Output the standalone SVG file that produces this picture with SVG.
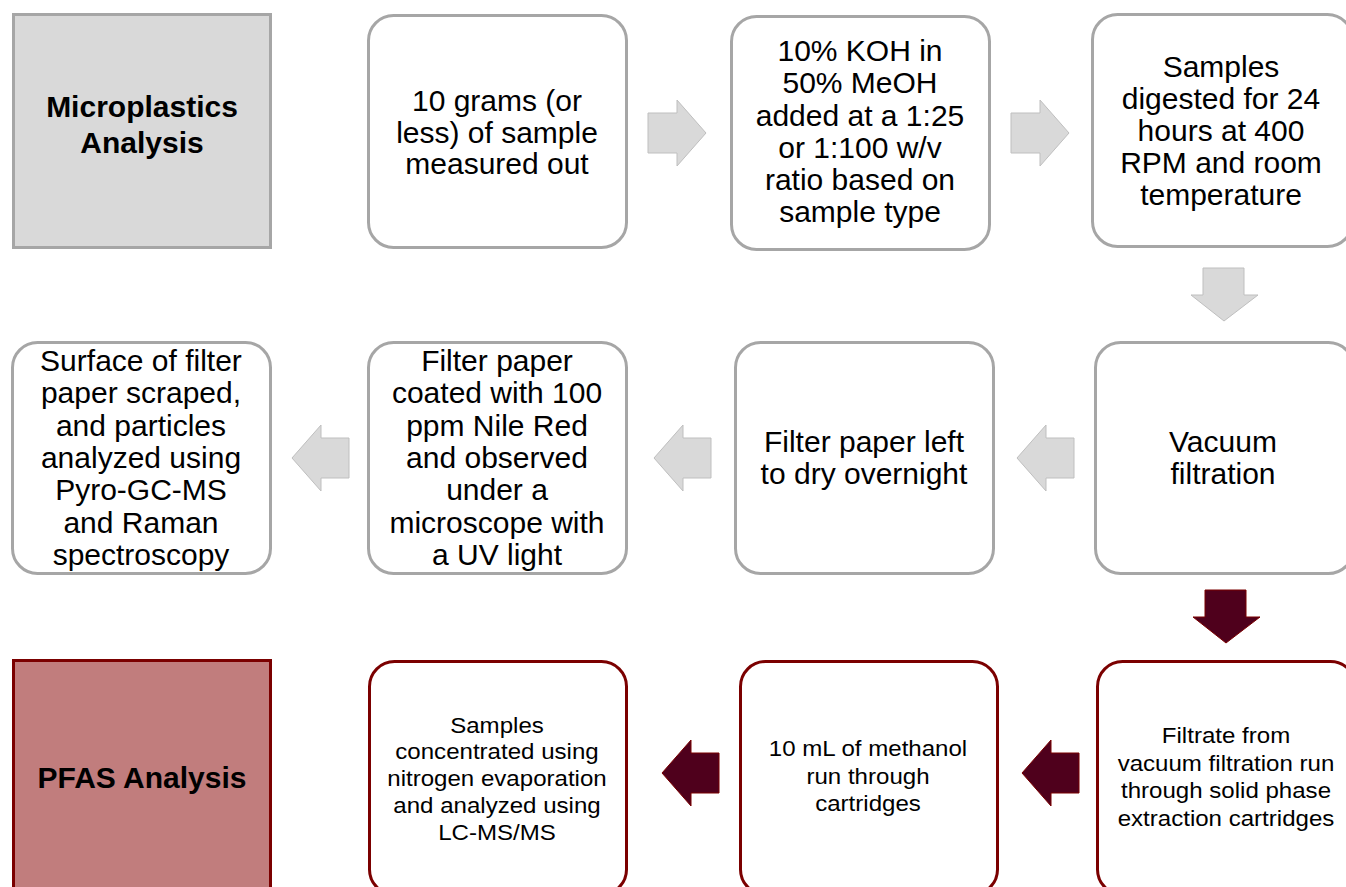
<svg xmlns="http://www.w3.org/2000/svg" xmlns:xlink="http://www.w3.org/1999/xlink" width="1346" height="887" viewBox="0 0 1346 887">
<style>
.t{font-family:"Liberation Sans",Arial,sans-serif;fill:#000;text-anchor:middle}
.big{font-size:30px}
.bold{font-size:30px;font-weight:bold}
.small{font-size:21.5px}
.gbox{fill:#fff;stroke:#a6a6a6;stroke-width:3}
.rbox{fill:#fff;stroke:#7b0000;stroke-width:3}
.garrow{fill:#d9d9d9;stroke:#bfbfbf;stroke-width:1}
.rarrow{fill:#4f001c;stroke:#7b0000;stroke-width:1}
</style>
<defs>
<path id="right" d="M0,13 H29 V0 L58,33 L29,66 V53 H0 Z"/>
<path id="left" d="M0,33 L29,0 V13 H57 V53 H29 V66 Z"/>
<path id="down" d="M12,0 H53 V27 H67 L33,53 L0,27 H12 Z"/>
</defs>
<rect width="1346" height="887" fill="#fff"/>

<g id="connectors">
<use xlink:href="#right" class="garrow" x="648" y="100"/>
<use xlink:href="#right" class="garrow" x="1011" y="100"/>
<use xlink:href="#down" class="garrow" x="1191" y="268"/>
<use xlink:href="#left" class="garrow" x="1017" y="425"/>
<use xlink:href="#left" class="garrow" x="654" y="425"/>
<use xlink:href="#left" class="garrow" x="292" y="425"/>
<use xlink:href="#down" class="rarrow" x="1193" y="590"/>
<use xlink:href="#left" class="rarrow" x="1022" y="740"/>
<use xlink:href="#left" class="rarrow" x="662" y="740"/>
</g>

<g id="microplastics">
<rect x="13.5" y="14.5" width="257" height="233" fill="#d9d9d9" stroke="#a6a6a6" stroke-width="3"/>
<text class="t bold" x="142" y="117">Microplastics</text>
<text class="t bold" x="142" y="153">Analysis</text>
</g>

<g id="step1">
<rect class="gbox" x="368.5" y="15.5" width="258" height="232" rx="25"/>
<text class="t big" x="497" y="111">10 grams (or</text>
<text class="t big" x="497" y="143">less) of sample</text>
<text class="t big" x="497" y="174">measured out</text>
</g>

<g id="step2">
<rect class="gbox" x="731.5" y="16.5" width="258" height="233" rx="25"/>
<text class="t big" x="860" y="61">10% KOH in</text>
<text class="t big" x="860" y="93">50% MeOH</text>
<text class="t big" x="860" y="126">added at a 1:25</text>
<text class="t big" x="860" y="158">or 1:100 w/v</text>
<text class="t big" x="860" y="190">ratio based on</text>
<text class="t big" x="860" y="222">sample type</text>
</g>

<g id="step3">
<rect class="gbox" x="1092.5" y="14.5" width="260" height="232" rx="25"/>
<text class="t big" x="1221" y="77">Samples</text>
<text class="t big" x="1221" y="109">digested for 24</text>
<text class="t big" x="1221" y="141">hours at 400</text>
<text class="t big" x="1221" y="173">RPM and room</text>
<text class="t big" x="1221" y="205">temperature</text>
</g>

<g id="step4">
<rect class="gbox" x="1095.5" y="342.5" width="258" height="231" rx="25"/>
<text class="t big" x="1223" y="452">Vacuum</text>
<text class="t big" x="1223" y="484">filtration</text>
</g>

<g id="step5">
<rect class="gbox" x="735.5" y="342.5" width="258" height="231" rx="25"/>
<text class="t big" x="864" y="452">Filter paper left</text>
<text class="t big" x="864" y="484">to dry overnight</text>
</g>

<g id="step6">
<rect class="gbox" x="368.5" y="342.5" width="258" height="231" rx="25"/>
<text class="t big" x="497" y="371">Filter paper</text>
<text class="t big" x="497" y="403">coated with 100</text>
<text class="t big" x="497" y="436">ppm Nile Red</text>
<text class="t big" x="497" y="468">and observed</text>
<text class="t big" x="497" y="500">under a</text>
<text class="t big" x="497" y="533">microscope with</text>
<text class="t big" x="497" y="565">a UV light</text>
</g>

<g id="step7">
<rect class="gbox" x="12.5" y="342.5" width="258" height="231" rx="25"/>
<text class="t big" x="141" y="371">Surface of filter</text>
<text class="t big" x="141" y="403">paper scraped,</text>
<text class="t big" x="141" y="436">and particles</text>
<text class="t big" x="141" y="468">analyzed using</text>
<text class="t big" x="141" y="500">Pyro-GC-MS</text>
<text class="t big" x="141" y="533">and Raman</text>
<text class="t big" x="141" y="565">spectroscopy</text>
</g>

<g id="pfas">
<rect x="13.5" y="660.5" width="257" height="235" fill="#c17d7d" stroke="#7b0000" stroke-width="3"/>
<text class="t bold" x="142" y="788">PFAS Analysis</text>
</g>

<g id="pfas1">
<rect class="rbox" x="1097.5" y="661.5" width="258" height="233" rx="25"/>
<g transform="translate(1226,0) scale(1.12,1)">
<text class="t small" x="0" y="743">Filtrate from</text>
<text class="t small" x="0" y="771">vacuum filtration run</text>
<text class="t small" x="0" y="798">through solid phase</text>
<text class="t small" x="0" y="826">extraction cartridges</text>
</g>
</g>

<g id="pfas2">
<rect class="rbox" x="740.5" y="661.5" width="257" height="233" rx="25"/>
<g transform="translate(868,0) scale(1.12,1)">
<text class="t small" x="0" y="756">10 mL of methanol</text>
<text class="t small" x="0" y="784">run through</text>
<text class="t small" x="0" y="811">cartridges</text>
</g>
</g>

<g id="pfas3">
<rect class="rbox" x="369.5" y="661.5" width="257" height="233" rx="25"/>
<g transform="translate(497,0) scale(1.12,1)">
<text class="t small" x="0" y="733">Samples</text>
<text class="t small" x="0" y="759">concentrated using</text>
<text class="t small" x="0" y="786">nitrogen evaporation</text>
<text class="t small" x="0" y="813">and analyzed using</text>
<text class="t small" x="0" y="840">LC-MS/MS</text>
</g>
</g>
</svg>
